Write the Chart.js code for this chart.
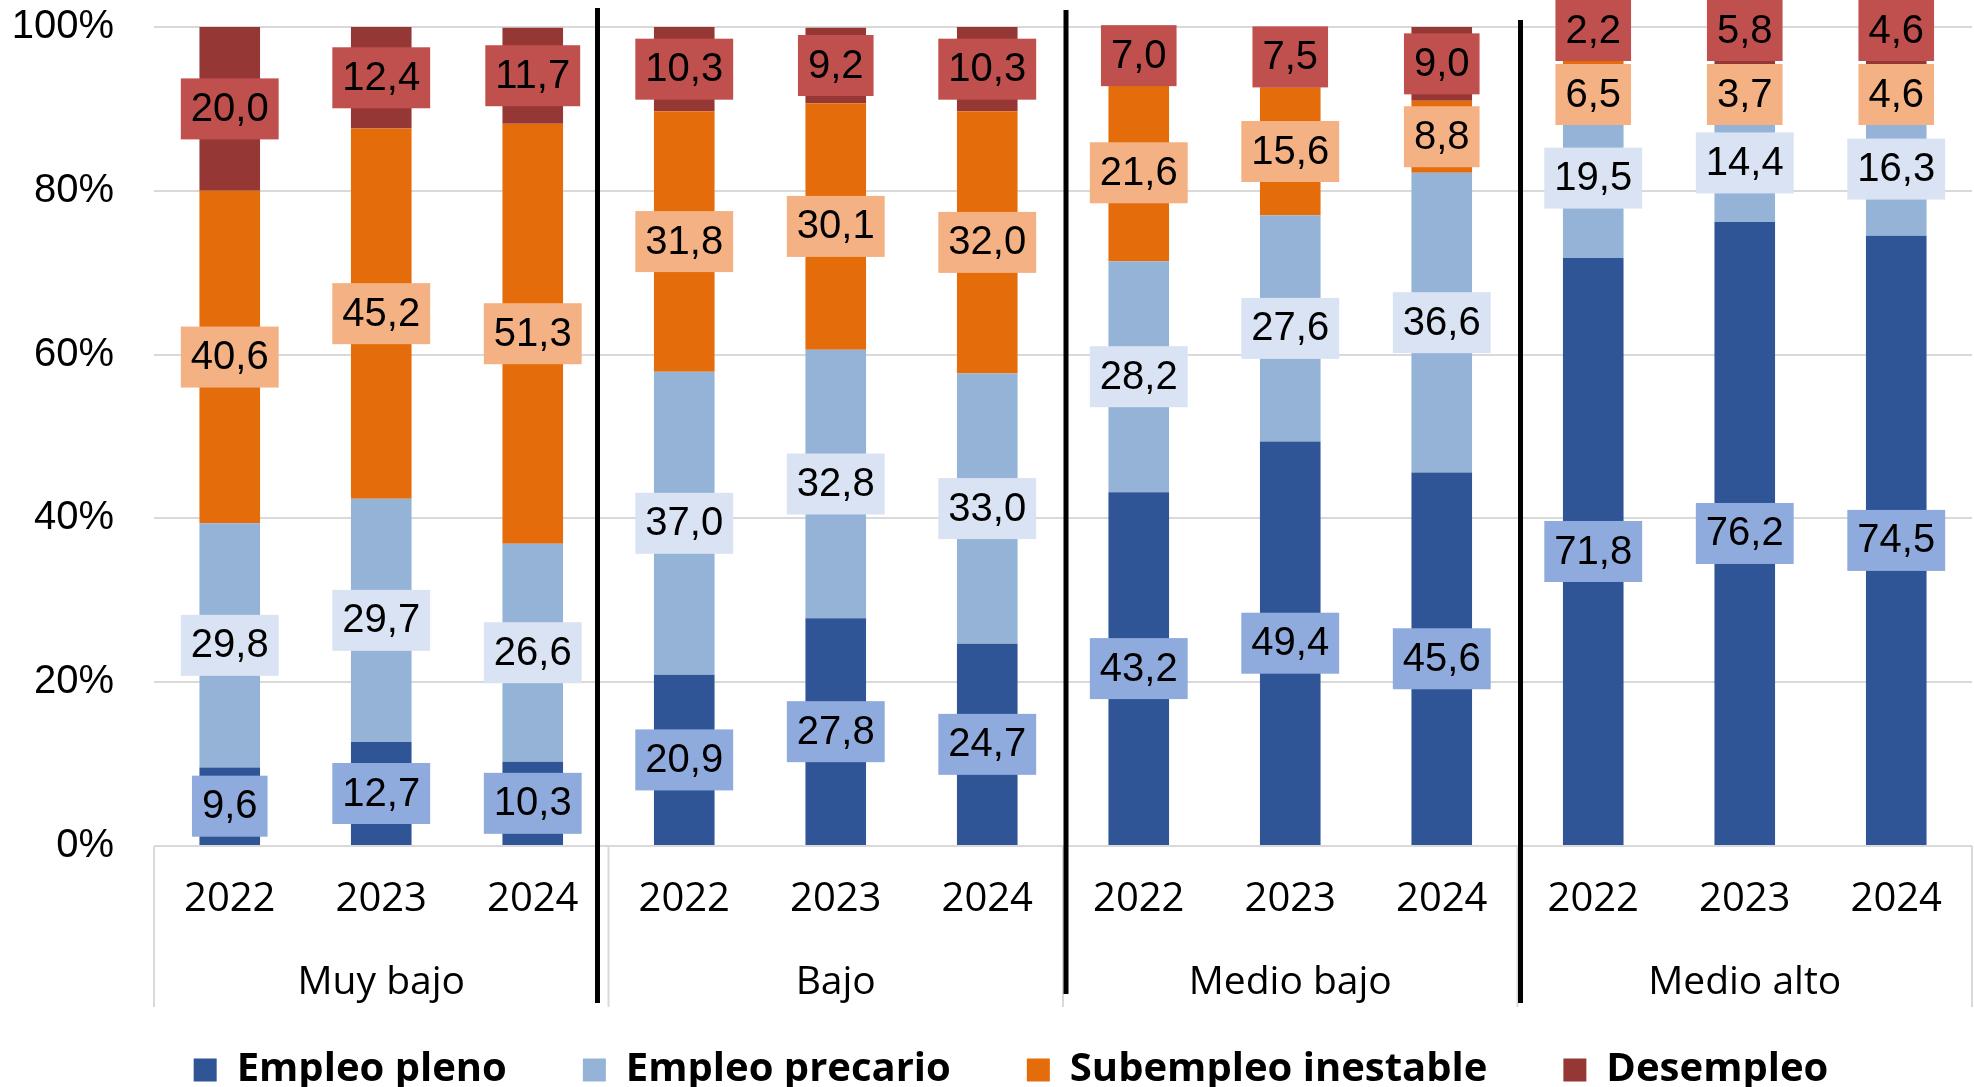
<!DOCTYPE html>
<html lang="es">
<head>
<meta charset="utf-8">
<title>Empleo por nivel</title>
<script src="https://cdn.jsdelivr.net/npm/chart.js@4/dist/chart.umd.min.js"></script>
<style>
  html, body { margin: 0; padding: 0; background: #fff; overflow: hidden; }
  canvas { display: block; }
</style>
</head>
<body>
<canvas id="chart" width="1974" height="1100"></canvas>
<script>
// data (percent of each bar)
const groups = ['Muy bajo', 'Bajo', 'Medio bajo', 'Medio alto'];
const years = ['2022', '2023', '2024'];
const seriesNames = ['Empleo pleno', 'Empleo precario', 'Subempleo inestable', 'Desempleo'];

const empleoPleno      = [9.6, 12.7, 10.3, 20.9, 27.8, 24.7, 43.2, 49.4, 45.6, 71.8, 76.2, 74.5];
const empleoPrecario   = [29.8, 29.7, 26.6, 37.0, 32.8, 33.0, 28.2, 27.6, 36.6, 19.5, 14.4, 16.3];
const subempleo        = [40.6, 45.2, 51.3, 31.8, 30.1, 32.0, 21.6, 15.6, 8.8, 6.5, 3.7, 4.6];
const desempleo        = [20.0, 12.4, 11.7, 10.3, 9.2, 10.3, 7.0, 7.5, 9.0, 2.2, 5.8, 4.6];

const yTicks = [0, 20, 40, 60, 80, 100];

// colours
const barColors = ['#2F5597', '#95B3D7', '#E46C0A', '#953735'];
const labelBoxColors = ['#8FAADC', '#DAE3F3', '#F4B183', '#C0504D'];

const categories = [];
groups.forEach(() => years.forEach(y => categories.push(y)));
const seriesValues = [empleoPleno, empleoPrecario, subempleo, desempleo];

const yearFont = "'Open Sans', 'Noto Sans', sans-serif";
const numFont = "'Liberation Sans', Arial, sans-serif";

// boxed value labels, nudged apart when they collide
const boxLabels = {
    id: 'boxLabels',
    afterDatasetsDraw(chart) {
        const ctx = chart.ctx;
        const BOX_H = 61, PAD_X = 10, GAP = 3;
        ctx.save();
        ctx.font = '40px ' + numFont;
        ctx.textAlign = 'center';
        ctx.textBaseline = 'middle';
        const nds = chart.data.datasets.length;
        for (let i = 0; i < categories.length; i++) {
            const boxes = [];
            for (let d = 0; d < nds; d++) {
                const bar = chart.getDatasetMeta(d).data[i];
                const v = chart.data.datasets[d].data[i];
                const text = v.toFixed(1).replace('.', ',');
                const cy = (bar.y + bar.base) / 2;
                boxes.push({
                    x: bar.x,
                    top: cy - BOX_H / 2,
                    w: ctx.measureText(text).width + 2 * PAD_X,
                    text: text,
                    fill: labelBoxColors[d]
                });
            }
            for (let d = nds - 1; d > 0; d--) {
                const up = boxes[d], low = boxes[d - 1];
                const need = up.top + BOX_H + GAP - low.top;
                if (need > 0) {
                    const limit = d === nds - 1 ? 0 : boxes[d + 1].top + BOX_H + GAP;
                    const room = Math.max(0, up.top - limit);
                    const shift = Math.min(room, need);
                    up.top -= shift;
                    low.top += need - shift;
                }
            }
            boxes.forEach(b => {
                ctx.fillStyle = b.fill;
                ctx.fillRect(b.x - b.w / 2, b.top, b.w, BOX_H);
                ctx.fillStyle = '#000';
                ctx.fillText(b.text, b.x, b.top + BOX_H / 2 + 1);
            });
        }
        ctx.restore();
    }
};

// group names, group boundary lines and the black separators
const groupAxis = {
    id: 'groupAxis',
    afterLayout(chart) {
        // the legend sits a little right of centre in the original
        chart.legend.left += 25;
        chart.legend.right += 25;
    },
    afterDraw(chart) {
        const ctx = chart.ctx;
        const xs = chart.scales.x;
        const area = chart.chartArea;
        const n = years.length;
        const catW = xs.getPixelForValue(1) - xs.getPixelForValue(0);
        const edges = [];
        for (let g = 0; g <= groups.length; g++) {
            edges.push(g < groups.length
                ? xs.getPixelForValue(g * n) - catW / 2
                : xs.getPixelForValue(g * n - 1) + catW / 2);
        }
        ctx.save();
        ctx.strokeStyle = '#D9D9D9';
        ctx.lineWidth = 2;
        edges.forEach(x => {
            ctx.beginPath();
            ctx.moveTo(x, area.bottom);
            ctx.lineTo(x, area.bottom + 161);
            ctx.stroke();
        });
        ctx.strokeStyle = '#000';
        ctx.lineWidth = 5;
        const nudge = [0, -11, 3, 3];
        const topOff = [0, 19, 17, 7];
        for (let g = 1; g < groups.length; g++) {
            ctx.beginPath();
            ctx.moveTo(edges[g] + nudge[g], area.top - topOff[g]);
            ctx.lineTo(edges[g] + nudge[g], area.bottom + (g === 2 ? 148 : 157));
            ctx.stroke();
        }
        ctx.fillStyle = '#000';
        ctx.font = '39px ' + yearFont;
        ctx.textAlign = 'center';
        ctx.textBaseline = 'middle';
        groups.forEach((name, g) => {
            ctx.fillText(name, (edges[g] + edges[g + 1]) / 2, area.bottom + 137);
        });
        ctx.restore();
    }
};

function drawChart() {
    const ctx = document.getElementById('chart').getContext('2d');
    new Chart(ctx, {
        type: 'bar',
        data: {
            labels: categories,
            datasets: seriesNames.map((name, d) => ({
                label: name,
                data: seriesValues[d],
                backgroundColor: barColors[d],
                borderWidth: 0,
                categoryPercentage: 1,
                barPercentage: 0.4
            }))
        },
        options: {
            responsive: false,
            animation: false,
            layout: { padding: { top: 27, right: 2, left: 0, bottom: 0 } },
            plugins: {
                tooltip: { enabled: false },
                legend: {
                    position: 'bottom',
                    labels: {
                        boxWidth: 23,
                        boxHeight: 23,
                        padding: 76,
                        color: '#000',
                        font: { family: yearFont, size: 40, weight: 'bold' }
                    }
                }
            },
            scales: {
                x: {
                    stacked: true,
                    grid: { display: false, drawTicks: false },
                    border: { display: false },
                    ticks: {
                        color: '#000',
                        font: { family: yearFont, size: 40 },
                        padding: 30,
                        maxRotation: 0,
                        autoSkip: false
                    },
                    afterFit: s => { s.height = 128; }
                },
                y: {
                    stacked: true,
                    min: yTicks[0],
                    max: yTicks[yTicks.length - 1],
                    grid: { color: '#D9D9D9', lineWidth: 2, drawTicks: false },
                    border: { display: false },
                    ticks: {
                        stepSize: yTicks[1] - yTicks[0],
                        color: '#000',
                        font: { family: numFont, size: 40 },
                        padding: 40,
                        callback: v => v + '%'
                    },
                    afterFit: s => {
                        s.width = 154;
                        s.paddingTop = 0;
                        s.paddingBottom = 0;
                    }
                }
            }
        },
        plugins: [boxLabels, groupAxis]
    });
}

Promise.all([
    document.fonts.load("40px 'Open Sans'"),
    document.fonts.load("bold 40px 'Open Sans'"),
    document.fonts.load("40px 'Liberation Sans'")
]).then(drawChart, drawChart);
</script>
</body>
</html>
